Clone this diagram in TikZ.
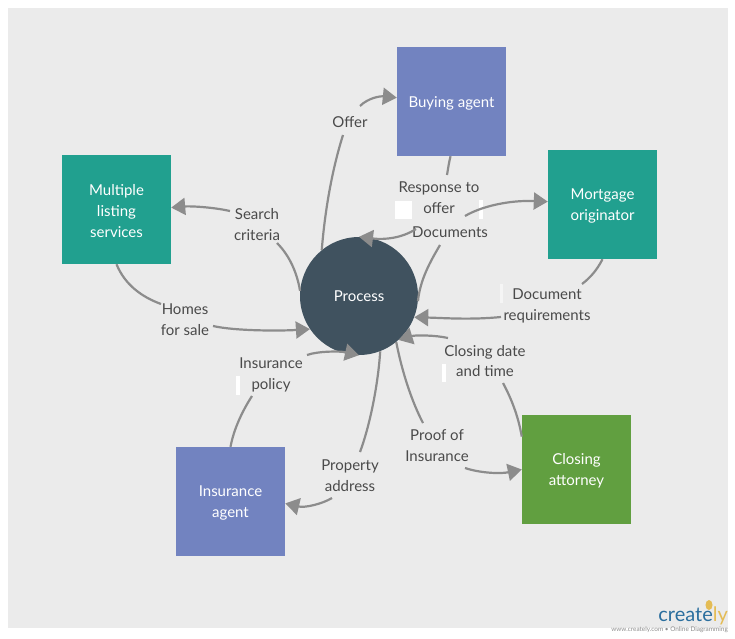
\documentclass[tikz,border=0pt]{standalone}
\usepackage{fontspec}
\setmainfont{Lato}
\usetikzlibrary{arrows.meta}
\definecolor{panelgray}{HTML}{EBEBEB}
\definecolor{agentblue}{HTML}{7283C0}
\definecolor{listteal}{HTML}{21A08F}
\definecolor{closegreen}{HTML}{619F40}
\definecolor{processslate}{HTML}{40525F}
\definecolor{linegray}{HTML}{8C8C8C}
\definecolor{labelgray}{HTML}{4A4A4A}
\definecolor{logoblue}{HTML}{2A6E9E}
\definecolor{logoyellow}{HTML}{E4BC55}
\newcommand{\actorgap}{\rule{0pt}{14pt}}
\tikzset{
  actor/.style={minimum size=109pt,inner sep=0pt,align=center,text=white,font=\fontsize{15}{21}\selectfont},
  flowlabel/.style={inner sep=1.5pt,align=center,text=labelgray,font=\fontsize{15}{20.5}\selectfont},
  flow/.style={draw=linegray,line width=2.2pt},
  flowtip/.style={flow,-{Triangle[length=14pt,width=17pt,fill=linegray]}},
  patch/.style={fill=white,draw=none}
}
\begin{document}
\begin{tikzpicture}[x=1pt,y=-1pt]
\useasboundingbox (0,0) rectangle (735,638);

% Panel
\fill[panelgray] (8,8) rectangle (728,628);

% White patches
\fill[patch] (395,201) rectangle (412,219);
\fill[patch] (479,200) rectangle (483,219);
\fill[patch] (236,376) rectangle (240,395);
\fill[patch] (442,364) rectangle (446,382);
\fill[patch,opacity=.5] (500,284) rectangle (503,303);

% Actors
\node[actor,fill=agentblue] (buying) at (451.5,101.5) {\actorgap Buying agent};
\node[actor,fill=listteal] (listing) at (116.5,209.5) {\actorgap Multiple\\listing\\services};
\node[actor,fill=listteal] (mortgage) at (602.5,204.5) {\actorgap Mortgage\\originator};
\node[actor,fill=closegreen] (attorney) at (576.5,469.5) {\actorgap Closing\\attorney};
\node[actor,fill=agentblue] (insurance) at (230.5,501.5) {\actorgap Insurance\\agent};
\node[circle,fill=processslate,minimum size=118pt,inner sep=0pt,text=white,font=\fontsize{15}{21}\selectfont] (process) at (359,296) {Process};

% Labels
\node[flowlabel] (offer) at (350,121.7) {Offer};
\node[flowlabel] (response) at (439,197.5) {Response to\\offer};
\node[flowlabel] (documents) at (450,232.5) {Documents};
\node[flowlabel] (search) at (257,224.5) {Search\\criteria};
\node[flowlabel] (homes) at (185,319.5) {Homes\\for sale};
\node[flowlabel] (policy) at (271,374.7) {Insurance\\policy};
\node[flowlabel] (property) at (350,475.5) {Property\\address};
\node[flowlabel] (proof) at (437,445.5) {Proof of\\Insurance};
\node[flowlabel] (closing) at (485,361) {Closing date\\and time};
\node[flowlabel] (requirements) at (547,306) {Document\\requirements};

% Free ends beside the labels
\coordinate (offerA) at (343,135);
\coordinate (offerB) at (360,106);
\coordinate (responseA) at (447,175);
\coordinate (responseB) at (416,229);
\coordinate (documentsA) at (440,245);
\coordinate (documentsB) at (465,216);
\coordinate (searchA) at (277,243);
\coordinate (searchB) at (230,211);
\coordinate (homesA) at (161,304);
\coordinate (homesB) at (213,326);
\coordinate (policyA) at (252,396);
\coordinate (policyB) at (307,355);
\coordinate (propertyA) at (360,452);
\coordinate (propertyB) at (332,498);
\coordinate (proofA) at (423,423);
\coordinate (proofB) at (465,468);
\coordinate (closingA) at (503,383);
\coordinate (closingB) at (448,338);
\coordinate (requirementsA) at (582,284);
\coordinate (requirementsB) at (501,317);

% Flows
\draw[flow] (process.129) .. controls (325,210) and (332,170) .. (offerA);
\draw[flowtip] (offerB) .. controls (368,98) and (380,96) .. (buying.176);

\draw[flow] (buying.269) .. controls (449,162) and (448,169) .. (responseA);
\draw[flowtip] (responseB) .. controls (402,238) and (385,240) .. (process.90);

\draw[flow] (process.355) .. controls (420,280) and (430,262) .. (documentsA);
\draw[flowtip] (documentsB) .. controls (482,206) and (510,200) .. (mortgage.177);

\draw[flow] (process.175) .. controls (297,272) and (289,255) .. (searchA);
\draw[flowtip] (searchB) .. controls (212,207) and (190,206) .. (listing.2);

\draw[flow] (listing.south) .. controls (125,285) and (142,297) .. (homesA);
\draw[flowtip] (homesB) .. controls (235,331) and (280,331) .. (process.214);

\draw[flow] (insurance.north) .. controls (234,428) and (243,410) .. (policyA);
\draw[flowtip] (policyB) .. controls (318,351) and (340,351) .. (process.270);

\draw[flow] (process.291) .. controls (378,385) and (370,425) .. (propertyA);
\draw[flowtip] (propertyB) .. controls (322,504) and (305,508) .. (insurance.358);

\draw[flow] (process.309) .. controls (402,372) and (412,402) .. (proofA);
\draw[flowtip] (proofB) .. controls (480,473) and (500,474) .. (attorney.west);

\draw[flow] (attorney.149) .. controls (518,415) and (511,398) .. (closingA);
\draw[flowtip] (closingB) .. controls (435,335) and (415,335) .. (process.312);

\draw[flow] (mortgage.south) .. controls (597,270) and (590,278) .. (requirementsA);
\draw[flowtip] (requirementsB) .. controls (470,320) and (445,318) .. (process.339);

% Logo
\node[inner sep=0pt,anchor=south east,font=\fontsize{20}{20}\selectfont] (logo) at (728,625) {\textcolor{logoblue}{create}\textcolor{logoyellow}{ly}};
\fill[logoyellow] (709,605) ellipse (3.5pt and 5pt);
\node[inner sep=0pt,anchor=east,text=linegray,font=\fontsize{6.4}{6.4}\selectfont] (logotext) at (728,629.5) {www.creately.com • Online Diagramming};

\end{tikzpicture}
\end{document}
